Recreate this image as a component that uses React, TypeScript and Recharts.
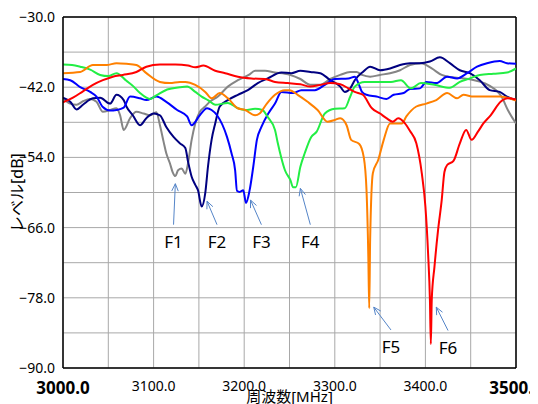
import {
  CartesianGrid,
  Line,
  LineChart,
  ReferenceLine,
  XAxis,
  YAxis,
} from "recharts";

// frequency [MHz] / level [dB], one pair per filter
const grayFreq = [3000, 3008, 3015, 3022, 3030, 3037, 3044, 3052, 3059, 3063, 3067, 3074, 3081, 3089, 3096, 3103, 3107, 3111, 3114, 3118, 3121, 3124, 3127, 3131, 3135, 3138, 3142, 3146, 3151, 3157, 3162, 3171, 3182, 3193, 3205, 3212, 3223, 3234, 3245, 3251, 3262, 3273, 3284, 3295, 3306, 3317, 3324, 3330, 3339, 3350, 3361, 3372, 3383, 3395, 3407, 3418, 3429, 3443, 3454, 3465, 3477, 3484, 3491, 3500];
const grayLevel = [-43.9, -44.8, -45.0, -44.4, -44.0, -44.5, -46.2, -45.9, -45.6, -46.8, -49.3, -47.3, -46.2, -46.5, -46.8, -46.3, -48.5, -51.3, -53.3, -55.0, -56.5, -57.2, -56.2, -55.9, -56.8, -55.0, -51.0, -48.2, -46.2, -45.3, -44.5, -43.6, -41.9, -40.8, -39.9, -39.2, -39.2, -39.5, -39.7, -39.9, -40.6, -41.6, -41.6, -40.6, -39.9, -39.4, -39.4, -39.9, -40.2, -39.9, -39.6, -39.1, -38.2, -37.9, -38.8, -39.9, -40.3, -40.5, -40.8, -41.3, -42.4, -43.6, -45.9, -48.2];

const navyFreq = [3000, 3008, 3015, 3022, 3033, 3041, 3052, 3059, 3067, 3070, 3077, 3085, 3092, 3100, 3107, 3114, 3122, 3129, 3135, 3138, 3142, 3146, 3149, 3153, 3157, 3160, 3164, 3168, 3173, 3182, 3193, 3204, 3215, 3226, 3241, 3252, 3262, 3273, 3284, 3295, 3306, 3311, 3317, 3322, 3331, 3339, 3350, 3361, 3372, 3383, 3394, 3405, 3416, 3427, 3438, 3449, 3460, 3471, 3482, 3490, 3500];
const navyLevel = [-43.8, -44.5, -45.8, -45.0, -43.9, -43.8, -44.8, -43.3, -44.2, -45.3, -46.8, -48.5, -47.3, -46.5, -46.8, -48.8, -50.5, -51.6, -52.4, -54.7, -57.3, -58.7, -59.6, -62.4, -60.1, -55.6, -51.0, -48.2, -45.3, -44.2, -43.3, -42.5, -41.3, -40.5, -39.5, -39.6, -39.2, -39.4, -39.6, -40.8, -41.9, -42.8, -42.2, -40.8, -39.4, -38.5, -39.1, -38.8, -38.2, -37.9, -37.9, -37.6, -36.9, -37.9, -39.1, -39.6, -40.8, -42.5, -42.8, -43.6, -44.2];

const blueFreq = [3000, 3008, 3019, 3030, 3037, 3044, 3052, 3059, 3067, 3074, 3085, 3092, 3103, 3114, 3126, 3137, 3142, 3151, 3159, 3164, 3170, 3181, 3186, 3190, 3192, 3195, 3199, 3202, 3206, 3210, 3214, 3219, 3227, 3234, 3241, 3254, 3263, 3278, 3289, 3300, 3315, 3322, 3326, 3330, 3335, 3346, 3357, 3365, 3376, 3383, 3394, 3401, 3412, 3424, 3435, 3446, 3457, 3468, 3482, 3490, 3500];
const blueLevel = [-40.6, -40.8, -42.0, -42.8, -43.6, -45.4, -46.0, -45.9, -45.5, -43.6, -43.9, -44.2, -43.6, -44.5, -45.9, -47.0, -48.5, -46.8, -45.6, -45.9, -46.8, -50.5, -53.3, -56.2, -59.7, -59.9, -59.6, -61.8, -59.6, -55.6, -51.0, -48.8, -46.4, -44.8, -42.8, -43.0, -42.5, -42.5, -41.6, -40.6, -40.5, -40.2, -41.3, -42.8, -43.3, -43.6, -44.0, -43.3, -43.0, -42.3, -42.2, -41.1, -41.3, -40.2, -40.5, -39.6, -38.5, -37.9, -37.5, -37.9, -38.0];

const greenFreq = [3000, 3010, 3019, 3030, 3041, 3050, 3059, 3070, 3078, 3085, 3096, 3103, 3115, 3129, 3137, 3146, 3153, 3160, 3168, 3182, 3193, 3201, 3212, 3220, 3226, 3234, 3237, 3241, 3245, 3251, 3254, 3257, 3262, 3267, 3274, 3280, 3289, 3300, 3311, 3317, 3322, 3333, 3351, 3362, 3373, 3384, 3395, 3410, 3427, 3438, 3449, 3460, 3475, 3490, 3500];
const greenLevel = [-38.1, -38.2, -38.5, -39.0, -39.9, -40.1, -39.6, -40.9, -41.9, -43.0, -44.0, -43.4, -42.4, -42.0, -41.9, -42.8, -43.6, -44.2, -45.0, -44.7, -45.6, -45.9, -45.7, -45.9, -47.1, -49.3, -51.5, -54.1, -56.2, -57.9, -59.1, -59.1, -55.6, -53.2, -50.5, -49.6, -46.5, -45.7, -45.6, -43.6, -41.9, -41.1, -41.1, -41.1, -40.8, -42.2, -41.3, -41.6, -42.1, -41.1, -40.5, -39.9, -39.7, -39.5, -38.8];

const orangeFreq = [3000, 3019, 3033, 3048, 3059, 3070, 3081, 3092, 3107, 3118, 3129, 3135, 3146, 3157, 3164, 3173, 3182, 3193, 3201, 3212, 3217, 3225, 3234, 3245, 3250, 3259, 3270, 3281, 3292, 3300, 3306, 3313, 3318, 3327, 3332, 3335, 3337, 3338, 3339, 3342, 3348, 3354, 3361, 3374, 3379, 3390, 3401, 3412, 3424, 3435, 3442, 3453, 3471, 3482, 3493, 3500];
const orangeLevel = [-39.6, -39.4, -38.2, -38.2, -37.9, -38.0, -38.2, -39.6, -41.1, -41.3, -41.1, -41.1, -41.6, -42.8, -43.9, -43.0, -43.9, -45.6, -45.9, -46.8, -46.5, -44.8, -43.3, -42.5, -42.5, -43.3, -44.5, -45.9, -47.9, -47.6, -47.3, -48.5, -51.0, -51.7, -54.0, -59.6, -71.0, -79.8, -68.1, -56.7, -54.4, -51.0, -48.2, -48.2, -47.0, -45.3, -44.8, -44.2, -43.0, -43.9, -43.3, -43.6, -43.6, -43.6, -43.9, -44.3];

const redFreq = [3000, 3011, 3022, 3033, 3044, 3055, 3066, 3081, 3092, 3107, 3124, 3138, 3146, 3155, 3168, 3179, 3193, 3208, 3223, 3234, 3248, 3262, 3273, 3284, 3295, 3306, 3315, 3322, 3331, 3341, 3350, 3357, 3364, 3370, 3377, 3383, 3390, 3396, 3400, 3403, 3405, 3406, 3407, 3410, 3414, 3418, 3421, 3424, 3431, 3438, 3445, 3451, 3458, 3464, 3472, 3483, 3491, 3500];
const redLevel = [-44.6, -43.8, -42.7, -41.6, -40.8, -40.2, -39.9, -39.4, -38.5, -38.1, -38.1, -38.3, -38.6, -38.3, -39.2, -39.6, -40.2, -40.5, -40.6, -41.1, -41.3, -41.5, -41.9, -41.6, -41.3, -41.5, -42.2, -42.8, -43.3, -45.6, -46.5, -47.3, -47.9, -47.3, -48.1, -49.5, -51.6, -56.7, -62.4, -70.5, -78.4, -85.9, -78.4, -72.7, -66.4, -61.3, -56.5, -55.3, -54.6, -51.6, -49.3, -51.0, -49.6, -48.2, -46.8, -44.5, -43.9, -44.1];

const xTicks = [3000, 3050, 3100, 3150, 3200, 3250, 3300, 3350, 3400, 3450, 3500];
const yTicks = [-90, -84, -78, -72, -66, -60, -54, -48, -42, -36, -30];

// F1..F6 callouts: arrow tail (label sits under it) and arrow tip
const calloutLabels = ["F1", "F2", "F3", "F4", "F5", "F6"];
const calloutTail = [
  [3122, -65.5],
  [3170, -65.5],
  [3219, -65.5],
  [3273, -65.5],
  [3362, -83.5],
  [3425, -83.6],
];
const calloutTip = [
  [3124, -58.5],
  [3159, -61.5],
  [3207, -61.3],
  [3262, -59.3],
  [3343, -79.6],
  [3412, -79.6],
];

const series = [
  { name: "gray", freq: grayFreq, level: grayLevel, color: "#858585" },
  { name: "navy", freq: navyFreq, level: navyLevel, color: "#000080" },
  { name: "blue", freq: blueFreq, level: blueLevel, color: "#0000ff" },
  { name: "green", freq: greenFreq, level: greenLevel, color: "#22ee44" },
  { name: "orange", freq: orangeFreq, level: orangeLevel, color: "#ff8000" },
  { name: "red", freq: redFreq, level: redLevel, color: "#ff0000" },
];

const FONT = "'Noto Sans', 'Noto Sans CJK JP', sans-serif";
const ARROW = "#5585c8";

const toPoints = (fs: number[], vs: number[]) =>
  fs.map((f, i) => ({ f, v: vs[i] }));

function XTick(props: any) {
  const { x, y, payload } = props;
  const v = payload.value;
  if (v % 100 !== 0) return <g />;
  const edge = v === 3000 || v === 3500;
  return (
    <text
      x={x}
      y={edge ? y + 18 : y + 15}
      textAnchor="middle"
      fontSize={edge ? 17 : 14}
      fontWeight={edge ? 700 : 400}
      fontFamily={FONT}
      fill="#000"
    >
      {v.toFixed(1)}
    </text>
  );
}

function YTitle(props: any) {
  const { x, y, height } = props.viewBox;
  return (
    <text
      transform={`translate(${x + 9}, ${y + height / 2}) rotate(-90)`}
      textAnchor="middle"
      dominantBaseline="central"
      fontSize={16}
      fontFamily={FONT}
      fill="#000"
    >
      レベル[dB]
    </text>
  );
}

function XTitle(props: any) {
  const { x, y, width } = props.viewBox;
  return (
    <text
      x={x + width / 2}
      y={y + 34}
      textAnchor="middle"
      fontSize={15}
      fontFamily={FONT}
      fill="#000"
    >
      周波数[MHz]
    </text>
  );
}

const arrowShape = (label: string) => (p: any) => {
  const { x1, y1, x2, y2 } = p;
  const a = Math.atan2(y2 - y1, x2 - x1);
  const len = 8;
  const s = 0.42;
  const ax = x2 - len * Math.cos(a - s);
  const ay = y2 - len * Math.sin(a - s);
  const bx = x2 - len * Math.cos(a + s);
  const by = y2 - len * Math.sin(a + s);
  return (
    <g>
      <line x1={x1} y1={y1} x2={x2} y2={y2} stroke={ARROW} strokeWidth={1} />
      <polyline
        points={`${ax},${ay} ${x2},${y2} ${bx},${by}`}
        fill="none"
        stroke={ARROW}
        strokeWidth={1}
      />
      <text
        x={x1}
        y={y1 + 23}
        textAnchor="middle"
        fontSize={17}
        fontFamily={FONT}
        fill="#000"
      >
        {label}
      </text>
    </g>
  );
};

export default function App() {
  return (
    <div style={{ width: 530, height: 396, fontFamily: FONT }}>
      <LineChart
        width={530}
        height={396}
        margin={{ top: 9, right: 22, bottom: 0, left: 0 }}
      >
        <CartesianGrid stroke="#a8a8a8" strokeWidth={1} />
        <XAxis
          type="number"
          dataKey="f"
          domain={[3000, 3500]}
          ticks={xTicks}
          allowDataOverflow
          height={36}
          tickLine={false}
          axisLine={{ stroke: "#000", strokeWidth: 1.5 }}
          tick={<XTick />}
          label={<XTitle />}
        />
        <YAxis
          type="number"
          domain={[-90, -30]}
          ticks={yTicks}
          allowDataOverflow
          width={55}
          tickLine={false}
          axisLine={{ stroke: "#000", strokeWidth: 1.5 }}
          tick={{ fontSize: 14, fill: "#000", fontFamily: FONT }}
          tickFormatter={(v: number) =>
            (v + 30) % 12 === 0 ? v.toFixed(1).replace("-", "\u2212") : ""
          }
          label={<YTitle />}
        />
        <ReferenceLine y={-30} stroke="#000" strokeWidth={1.5} />
        <ReferenceLine x={3500} stroke="#000" strokeWidth={1.5} />
        {series.map((s) => (
          <Line
            key={s.name}
            data={toPoints(s.freq, s.level)}
            dataKey="v"
            type="monotone"
            stroke={s.color}
            strokeWidth={2}
            dot={false}
            activeDot={false}
            isAnimationActive={false}
          />
        ))}
        {calloutLabels.map((lab, i) => (
          <ReferenceLine
            key={lab}
            segment={[
              { x: calloutTail[i][0], y: calloutTail[i][1] },
              { x: calloutTip[i][0], y: calloutTip[i][1] },
            ]}
            shape={arrowShape(lab)}
          />
        ))}
      </LineChart>
    </div>
  );
}
